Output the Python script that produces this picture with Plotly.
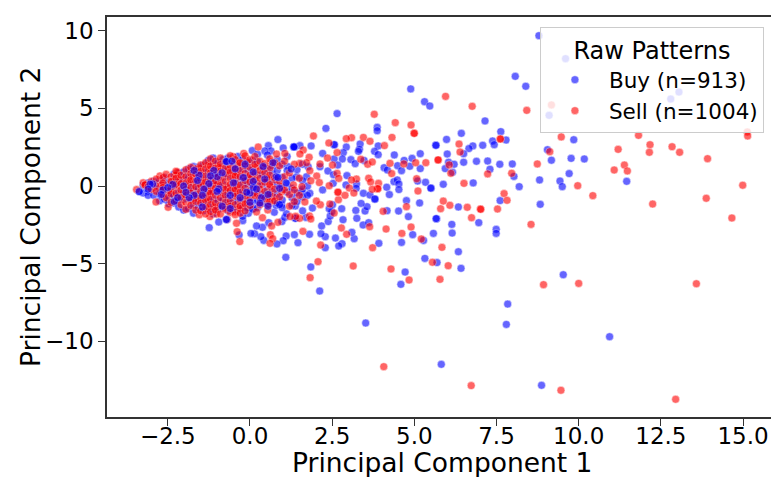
import plotly.graph_objects as go

# ---- Buy pattern, sparse region and lower layer ----
buy_x = [8.79,9.60,8.07,8.39,13.05,12.80,9.10,7.15,7.63,6.43,5.98,5.65,7.38,7.43,7.79,7.08,6.78,6.66,6.00,6.50,9.05,9.85,9.17,9.77,10.17,6.04,6.21,6.50,6.89,7.23,7.60,7.98,7.30,5.94,6.16,8.03,9.71,8.81,9.43,9.50,11.46,6.79,5.88,5.51,8.19,8.83,
 9.53,7.84,7.80,10.94,8.87,
 1.09,1.85,2.12,3.52,5.82,4.59,4.72,5.69,6.42,6.34,5.32,4.61,5.28,5.58,6.15,6.14,6.96,7.49,7.49,5.68,5.66,4.82,4.52,4.17,4.95,3.92,3.17,3.10,3.44,3.61,3.25,2.83,3.22,3.50,3.56,3.38,3.80,4.76,5.16,6.34,2.60,2.80,2.70,2.29,2.29,2.16,1.81,1.46,1.35,1.10,1.01,0.82,0.42,0.33,0.14,0.38,0.20,0.57,0.97,1.06,1.11,1.37,1.39,1.70,2.18,2.38,2.44,2.49,2.41,1.90,1.38,2.51,2.79,0.74,0.96,0.79,7.61,
 4.89,5.31,5.47,2.65,2.31,3.87,3.87,0.85,5.66,2.55,2.57,2.93,3.35,3.33,3.30,3.90,3.79,3.90,2.21,1.86,1.52,1.33,1.36,1.01,0.56,0.64,0.07,0.45,4.39,4.69,4.93,5.18,4.86,5.18,4.08,4.18,4.49,4.61,2.84,2.56,2.81,3.07,3.20,3.47,2.67,2.37,2.54,2.95,3.24,2.92,3.23,3.45,3.65,3.80,4.16,4.24,4.38,4.48,4.53,4.53,5.10,5.34,5.50,1.72,1.77,2.13,1.57,1.82,2.53,2.21,1.42,1.17,
 -1.24,-0.95,-0.22,-0.05,0.10,-0.33,0.03,-0.56]
buy_y = [9.68,8.20,7.06,6.42,6.05,5.60,4.55,4.19,3.50,3.39,3.00,2.62,2.90,2.66,2.96,2.62,2.58,2.41,2.06,2.08,2.34,2.98,1.66,1.78,1.74,1.53,1.40,1.53,1.59,1.61,1.40,1.42,1.08,1.12,0.88,0.62,0.80,0.39,0.32,-0.04,0.30,0.20,0.11,-0.15,-0.04,-1.18,
 -5.71,-7.60,-8.91,-9.70,-12.83,
 -4.59,-5.21,-6.76,-8.82,-11.48,-6.33,-5.54,-4.93,-5.30,-4.23,-4.66,-3.63,-3.50,-3.05,-3.03,-2.47,-2.36,-2.79,-3.05,-2.10,-2.10,-1.97,-1.61,-1.59,-3.13,-3.69,-3.39,-2.98,-2.51,-2.36,-2.08,-2.17,-1.57,-1.61,-1.33,-1.12,-0.86,-0.94,-1.09,-1.35,-3.35,-3.71,-3.86,-3.97,-3.26,-3.07,-3.11,-3.65,-3.13,-3.22,-3.52,-3.73,-3.50,-3.26,-3.07,-2.66,-2.57,-2.36,-2.29,-2.02,-1.78,-2.08,-2.08,-2.02,-2.57,-2.29,-1.93,-1.65,-1.46,-1.42,-1.29,-1.20,-1.46,-1.69,-1.20,-1.24,-0.94,
 6.25,5.43,5.15,4.66,3.71,3.78,3.56,2.99,2.62,2.66,2.66,2.51,2.71,2.36,2.23,2.58,2.23,2.02,2.10,2.58,2.60,2.51,2.51,2.45,2.60,2.26,2.28,2.26,2.00,1.65,1.78,2.08,1.27,1.12,1.18,1.03,1.31,0.99,2.15,1.74,1.74,1.70,1.44,1.65,1.35,0.97,0.73,0.67,0.13,0.07,-0.15,-0.47,-0.58,-0.83,-0.08,-0.55,0.28,0.39,0.13,-0.23,0.32,0.24,-0.13,0.60,1.24,1.24,-0.36,-0.47,0.17,-0.25,0.60,1.24,
 -2.68,-2.32,-2.23,-1.76,-1.44,-3.15,-3.05,-1.44]

# dense cluster, read as columns: (x, [y, y, ...])
buy_cluster = [
 (-3.37,[-0.36]),(-3.25,[0.05,-0.45]),(-3.10,[0.20,-0.35,-0.60]),(-2.93,[0.30,-0.10,-0.60]),
 (-2.75,[0.35,-0.15,-0.50,-0.95]),(-2.60,[0.55,0.05,-0.85]),(-2.47,[0.20,-0.35,-0.70,-1.15]),
 (-2.32,[0.75,0.30,-0.05,-0.60,-1.10]),(-2.17,[0.85,0.40,-0.40,-0.90,-1.35]),
 (-2.02,[0.90,0.40,-0.05,-0.45,-0.85,-1.55]),(-1.87,[1.10,0.55,0.05,-0.30,-0.70,-1.45]),
 (-1.72,[1.25,0.90,0.15,-0.30,-0.75,-1.20,-1.75]),(-1.57,[1.20,0.60,0.20,-0.15,-0.55,-0.95,-1.40]),
 (-1.42,[1.35,0.85,0.40,0.00,-0.40,-0.75,-1.15,-1.60]),(-1.27,[1.65,0.95,0.55,0.15,-0.30,-0.70,-1.05,-1.50]),
 (-1.12,[1.80,1.40,1.00,0.50,0.10,-0.40,-0.85,-1.35,-1.80]),(-0.97,[1.50,0.85,0.15,-0.25,-0.95,-1.50]),
 (-0.82,[1.70,1.25,0.55,0.10,-0.45,-0.90,-1.35]),(-0.67,[1.80,1.10,0.70,-0.10,-0.45,-0.80,-1.20,-1.60]),
 (-0.52,[1.50,1.00,0.35,-0.05,-0.45,-1.05,-1.50]),(-0.37,[1.90,1.30,0.80,0.40,-0.10,-0.55,-1.00,-1.55]),
 (-0.22,[1.70,1.10,0.50,0.15,-0.30,-0.80,-1.40,-1.95]),(-0.07,[1.50,1.05,0.55,0.10,-0.45,-0.95,-1.40]),
 (0.08,[1.65,1.05,0.60,0.10,-0.45,-1.00,-1.50]),(0.23,[2.05,1.55,0.70,0.15,-0.50,-0.95,-1.40]),
 (0.38,[1.30,0.75,0.10,-0.55,-1.10]),(0.53,[2.00,1.10,0.40,-0.25,-0.70,-1.20]),
 (0.68,[1.30,0.80,0.30,-0.35,-0.80]),(0.83,[1.70,1.00,0.05,-0.55,-1.10]),
 (0.98,[1.40,0.55,-0.15,-0.90,-1.40]),(1.13,[1.90,1.00,0.15,-0.40]),
 (1.28,[0.50,-0.15,-0.75,-1.25]),(1.43,[1.05,-0.45,-1.00]),(1.60,[1.40,0.35,-0.20,-0.70,-1.60]),(1.75,[0.00,-0.60]),
]

# ---- Sell pattern ----
sell_x = [9.17,5.95,6.76,8.42,9.47,11.82,15.13,15.14,12.17,12.84,13.07,12.15,11.20,13.92,7.61,7.62,6.36,6.39,9.12,5.73,8.74,11.39,11.08,11.48,7.96,7.23,6.11,6.06,6.51,9.97,14.99,10.43,7.73,7.01,12.25,13.88,
 14.66,8.55,8.93,10.00,13.58,9.46,12.95,
 2.07,1.83,3.14,4.29,4.84,5.78,5.55,6.03,4.07,6.73,5.84,5.21,4.90,4.62,4.14,3.73,3.64,2.94,2.78,2.15,1.61,2.56,2.43,2.14,1.67,2.02,2.69,1.81,1.85,1.51,1.39,1.22,0.85,0.38,0.66,0.62,0.69,0.61,0.20,0.54,0.56,4.05,4.76,5.80,6.08,5.88,6.61,6.74,7.02,7.53,7.82,
 3.78,4.42,4.90,4.99,5.00,1.93,3.09,2.93,3.45,3.65,4.32,2.40,4.09,1.62,0.25,-0.19,0.81,1.06,1.52,1.80,2.65,2.36,3.37,3.58,3.72,4.26,4.68,5.04,5.35,5.72,4.31,5.07,5.11,3.91,3.88,3.89,3.61,3.67,3.24,3.09,3.02,3.16,3.72,2.67,2.68,2.89,2.41,1.52,1.72,2.13,1.82,2.03,1.85,2.11,1.58,1.32,2.65,2.70,2.51,
 -3.45,-3.25,-3.20,-3.19,-2.74,-2.69,-2.86,-2.49,-2.21,-2.25,-2.49,-2.64,-2.39,-2.13,-2.03,-2.21,-2.21,-1.83,-1.73,-1.54,-1.50,-1.27,-1.22,-0.97,-0.96,-0.97,-0.66,-0.51,-0.43,-0.51,-0.33,-0.10,0.20,0.40,0.61,0.64,0.50,0.51,0.05,0.30,0.61,0.76,0.96,0.96,0.71,0.56,0.20,-0.10,-0.46,-0.41,-0.71,-1.02,-1.42,-1.17,-1.32,-1.62,-1.32,-1.07,-0.76,-0.43,-0.31,-0.10,-1.54,-1.22,-1.02,-0.69,-0.41,-0.39,-0.31]
sell_y = [5.22,5.77,5.13,4.87,3.16,3.26,3.48,3.22,2.66,2.53,2.17,2.17,2.36,1.76,3.03,3.03,2.70,2.19,2.21,1.68,1.42,1.35,1.03,0.97,0.82,0.78,0.82,1.36,0.17,0.02,0.05,-0.62,-0.49,-1.48,-1.16,-0.79,
 -2.06,-2.47,-6.35,-6.27,-6.29,-13.15,-13.73,
 -4.87,-5.90,-5.15,-5.34,-6.05,-6.01,-4.91,-5.13,-11.63,-12.85,-3.95,-3.41,-2.64,-3.05,-2.77,-3.97,-2.62,-3.11,-2.70,-3.80,-2.92,-1.74,-1.16,-1.20,-1.03,-0.97,-0.88,-1.93,-2.12,-2.08,-1.95,-1.97,-2.34,-2.04,-2.57,-3.13,-3.39,-3.69,-1.67,-1.54,-1.18,-1.63,-1.33,-1.46,-1.24,-0.97,-1.37,-2.04,-1.50,-1.48,-0.92,
 4.62,4.08,3.93,3.39,3.39,3.22,3.11,3.05,3.13,2.88,3.13,2.77,2.60,2.32,2.51,2.10,2.06,2.10,2.06,1.85,2.15,1.80,1.72,1.40,1.55,1.46,1.42,1.50,1.50,1.68,0.80,0.47,-0.32,0.17,-0.17,-0.17,0.50,0.26,0.45,0.39,-0.13,-0.45,-0.21,-0.40,-0.40,-0.60,0.02,1.46,1.50,1.42,0.99,0.64,0.34,0.22,-0.04,0.07,0.82,0.49,1.35,
 -0.23,0.21,0.07,0.08,0.65,0.07,-1.03,-1.37,0.88,0.71,-0.32,-0.21,0.17,0.39,-0.47,-0.69,0.00,0.28,0.60,1.14,0.71,1.35,1.07,1.20,1.20,0.60,1.03,0.71,0.88,1.89,1.46,1.57,1.25,1.18,1.18,1.57,0.49,0.49,0.56,0.07,-0.04,0.39,-0.04,-0.36,-0.69,-0.69,-0.47,-0.47,-0.47,-0.04,-0.08,0.07,0.17,-0.36,-0.79,-0.79,-1.44,-1.37,-1.37,-1.65,-1.44,-1.07,-1.85,-1.97,-1.80,-2.15,-2.40,-2.94,-3.58]

sell_cluster = [
 (-3.10,[-0.05]),(-3.00,[0.30,-0.20]),(-2.85,[0.45,0.00,-0.35]),(-2.65,[0.55,0.20,-0.10,-0.55]),
 (-2.55,[0.75,-0.75]),(-2.40,[0.60,0.30,-0.15,-0.50,-1.05]),(-2.25,[0.95,0.50,0.10,-0.45,-0.95]),
 (-2.10,[0.70,0.15,-0.25,-0.75,-1.20]),(-1.95,[1.05,0.60,0.20,-0.20,-0.60,-1.05,-1.50]),
 (-1.80,[1.20,0.80,0.40,-0.10,-0.45,-0.90,-1.25]),(-1.65,[1.10,0.75,0.30,-0.05,-0.55,-1.00,-1.55]),
 (-1.50,[1.35,0.95,0.45,0.05,-0.35,-0.75,-1.10,-1.60]),(-1.35,[1.50,1.10,0.65,0.25,-0.15,-0.55,-0.95,-1.35,-1.80]),
 (-1.20,[1.75,1.30,0.85,0.40,0.00,-0.45,-0.85,-1.20,-1.65]),(-1.05,[1.60,1.15,0.70,0.30,-0.15,-0.60,-1.10,-1.55]),
 (-0.90,[1.80,1.40,0.95,0.45,0.05,-0.35,-0.75,-1.25,-1.80]),(-0.75,[1.55,1.15,0.75,0.30,-0.20,-0.60,-1.05,-1.50]),
 (-0.60,[1.95,1.30,0.90,0.50,0.10,-0.30,-0.95,-1.30,-1.70]),(-0.45,[1.70,1.15,0.65,0.20,-0.20,-0.65,-1.20,-1.85]),
 (-0.30,[1.50,1.00,0.60,0.05,-0.40,-0.90,-1.30,-1.75]),(-0.15,[1.95,1.30,0.80,0.35,-0.15,-0.65,-1.15,-1.60]),
 (0.00,[1.70,1.20,0.70,0.25,-0.30,-0.80,-1.25]),(0.15,[1.90,1.40,0.85,0.40,-0.10,-0.60]),
 (0.30,[1.60,1.00,0.50,-0.20,-0.75,-1.20]),(0.45,[1.45,0.85,0.25,-0.35,-0.80]),
 (0.60,[1.75,0.70,0.10,-0.50,-1.00]),(0.75,[1.50,0.55,-0.20,-0.95]),(0.90,[1.30,0.30,-0.70]),
 (1.05,[1.60,0.60,-0.25]),(1.20,[0.85,-0.55,-1.30]),(1.35,[1.40,-0.25,-1.00]),(1.50,[0.50,-0.60]),
]

# ---- Buy points that sit on top of the red ones in the cluster ----
buy_top_x = [-3.37,-2.96,-3.04,-2.65,-2.02,-1.55,-1.25,-1.00,-0.71,-0.72,-0.20,0.00,-0.10,-0.45,-1.40,-1.70,0.35,0.55,0.80,0.85,1.33,1.34,0.40,-0.71,-0.72,-0.95,0.10,-1.85,-2.30,-0.60,0.10,-1.10,-0.55,0.30,
 -3.10,-2.70,-2.35,-2.20,-1.95,-1.60,-1.45,-1.20,-1.00,-0.85,-0.50,-0.30,0.10,0.20,0.45,0.55,0.90,1.10,1.25,-0.85,-0.15,-1.70,0.70,-2.50,-1.45,-0.60,0.00,0.90]
buy_top_y = [-0.36,0.13,0.12,-0.25,0.00,0.70,0.15,0.60,1.57,1.58,0.55,-0.45,-0.40,1.10,-0.20,-0.60,-0.75,-1.30,0.60,0.55,2.51,2.52,1.25,-2.15,-2.16,-0.20,-0.10,-0.75,-1.00,-0.60,0.30,1.00,1.60,-1.10,
 -0.20,-0.55,0.10,-0.75,-0.40,0.35,-0.60,0.65,-0.35,0.85,0.20,-0.75,0.90,-0.20,0.45,-0.55,-0.15,0.20,1.10,-1.30,1.40,1.00,1.50,-0.10,-1.35,-1.45,-1.05,-1.20]

x_ticks = [-2.5, 0.0, 2.5, 5.0, 7.5, 10.0, 12.5, 15.0]
y_ticks = [-10, -5, 0, 5, 10]
x_title = "Principal Component 1"
y_title = "Principal Component 2"
legend_title = "Raw Patterns"
buy_name = "Buy (n=913)"
sell_name = "Sell (n=1004)"

def expand(cols):
    xs, ys = [], []
    for cx, cy in cols:
        for v in cy:
            xs.append(cx)
            ys.append(v)
    return xs, ys

FONT = "DejaVu Sans"
BLUE = "rgb(0,0,255)"
RED = "rgb(255,0,0)"
marker = lambda c: dict(color=c, size=8, opacity=0.6, line=dict(color="white", width=0.5))

bcx, bcy = expand(buy_cluster)
scx, scy = expand(sell_cluster)

fig = go.Figure()
fig.add_trace(go.Scatter(x=buy_x + bcx, y=buy_y + bcy, mode="markers", name=buy_name, legendgroup="b",
                         marker=marker(BLUE), cliponaxis=True))
fig.add_trace(go.Scatter(x=sell_x + scx, y=sell_y + scy, mode="markers", name=sell_name, legendgroup="s",
                         marker=marker(RED), cliponaxis=True))
fig.add_trace(go.Scatter(x=buy_top_x, y=buy_top_y, mode="markers", name=buy_name, legendgroup="b",
                         showlegend=False, marker=marker(BLUE), cliponaxis=True))

axis = dict(showgrid=False, zeroline=False, showline=True, linecolor="#333", linewidth=1.5,
            mirror=True, ticks="outside", ticklen=7, tickwidth=1.3, tickcolor="#333", automargin=False,
            tickfont=dict(family=FONT, size=23, color="black"))
fig.update_layout(
    width=771, height=477, autosize=False,
    margin=dict(l=107, r=0, t=17, b=60),
    paper_bgcolor="white", plot_bgcolor="white",
    font=dict(family=FONT, color="black"),
    xaxis=dict(axis, range=[-4.35, 15.85], tickvals=x_ticks, tickformat=".1f", ticklabelstandoff=-9),
    yaxis=dict(axis, range=[-14.87, 10.88], tickvals=y_ticks),
    annotations=[
        dict(text=x_title, xref="paper", x=0.5, xshift=3, yref="paper", y=0, yshift=-45, yanchor="middle",
             xanchor="center", showarrow=False, borderpad=0, font=dict(family=FONT, size=26.5)),
        dict(text=y_title, xref="paper", x=0, xshift=-77, yref="paper", y=0.5, yanchor="middle",
             xanchor="center", textangle=-90, showarrow=False, font=dict(family=FONT, size=26.5)),
    ],
    legend=dict(x=0.652, y=0.975, xanchor="left", yanchor="top",
                bgcolor="rgba(255,255,255,0.8)", bordercolor="#ccc", borderwidth=1,
                font=dict(family=FONT, size=21.5), tracegroupgap=0,
                title=dict(text=legend_title, side="top center", font=dict(family=FONT, size=24)),
                itemsizing="trace", itemwidth=58),
)
fig.write_html("out.html", post_script="document.body.style.margin='0';",
               config={"displayModeBar": False})
